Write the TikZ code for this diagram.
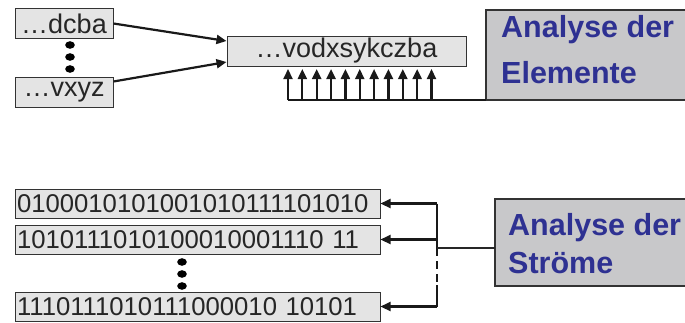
\documentclass[tikz,border=0pt]{standalone}
\usepackage{fontspec}
\setmainfont{Liberation Sans}
\usetikzlibrary{arrows.meta}
\definecolor{boxfill}{HTML}{E4E4E4}
\definecolor{bigfill}{HTML}{C8C8CA}
\definecolor{titleblue}{HTML}{2E3192}
\definecolor{edge}{HTML}{333333}
\begin{document}
\begin{tikzpicture}[x=1pt,y=-1pt,
  strbox/.style={draw=edge, fill=boxfill, line width=1pt, inner sep=0pt, text=black!85},
  topfont/.style={font=\fontsize{27}{28}\selectfont},
  bitbox/.style={strbox, font=\fontsize{25.7}{27}\selectfont, text width=361pt, inner xsep=2pt, align=left, minimum height=29pt},
  bigbox/.style={draw=edge, fill=bigfill, line width=1.4pt},
  title/.style={anchor=base west, inner sep=0pt, text=titleblue, font=\fontsize{30.5}{32}\bfseries\selectfont},
  arr/.style={line width=2.2pt, draw=black!90, -{Triangle[length=10pt,width=9pt]}},
  thin/.style={line width=1.1pt, draw=black!85},
  dot/.style={fill=black}
]
\useasboundingbox (0,0) rectangle (685,322);

% --- top part ---
\node[strbox, topfont, minimum width=98pt, minimum height=30pt] (dcba) at (64,23.5) {…dcba};
\node[strbox, topfont, minimum width=98pt, minimum height=30pt] (vxyz) at (64,92) {…vxyz};
\fill[dot] (70,45) ellipse (4.8pt and 3.8pt);
\fill[dot] (70,57) ellipse (4.8pt and 3.8pt);
\fill[dot] (70,69) ellipse (4.8pt and 3.8pt);
\node[strbox, topfont, minimum width=239pt, minimum height=30pt] (word) at (346.5,51) {…vodxsykczba};

\draw[arr] (dcba.east) -- ([yshift=10pt]word.west);
\draw[arr] ([yshift=-5pt]vxyz.north east) -- ([yshift=-11pt]word.west);

\path[bigbox] (486,10) rectangle (700,100);
\coordinate (elsw) at (486,100);
\node[title] (el1) at (501,37) {Analyse der};
\node[title] (el2) at (501,83) {Elemente};

\coordinate (base0) at (288,100);
\draw[line width=1.8pt, draw=black!90] (base0) -- (elsw);
\foreach \i in {0,...,10} {
  \coordinate (b\i) at (288+14.35*\i,100);
  \draw[arr] (b\i) -- (288+14.35*\i,69);
}

% --- bottom part ---
\node[bitbox] (s1) at (197.5,203.5) {0100010101001010111101010};
\node[bitbox] (s2) at (197.5,239.5) {1010111010100010001110 11};
\node[bitbox] (s3) at (197.5,306.5) {1110111010111000010 10101};
\fill[dot] (182,262) ellipse (4.8pt and 3.8pt);
\fill[dot] (182,274) ellipse (4.8pt and 3.8pt);
\fill[dot] (182,286) ellipse (4.8pt and 3.8pt);

\path[bigbox] (495,199) rectangle (700,286);
\coordinate (stw) at (495,248);
\node[title] (st1) at (508,235) {Analyse der};
\node[title] (st2) at (508,273) {Ströme};

\coordinate (j1) at (437,203.5);
\coordinate (j2) at (437,239.5);
\coordinate (jm) at (437,248);
\coordinate (jd) at (437,285);
\coordinate (j3) at (437,306.5);
\draw[line width=2.2pt, draw=black!90] (j1) -- (jm);
\draw[line width=2.2pt, draw=black!90, dash pattern=on 8pt off 5pt] (jm) -- (jd);
\draw[line width=2.2pt, draw=black!90] (jd) -- (j3);
\draw[arr] (j1) -- (s1.east);
\draw[arr] (j2) -- (s2.east);
\draw[arr] (j3) -- (s3.east);
\draw[thin] (jm) -- (stw);
\end{tikzpicture}
\end{document}
